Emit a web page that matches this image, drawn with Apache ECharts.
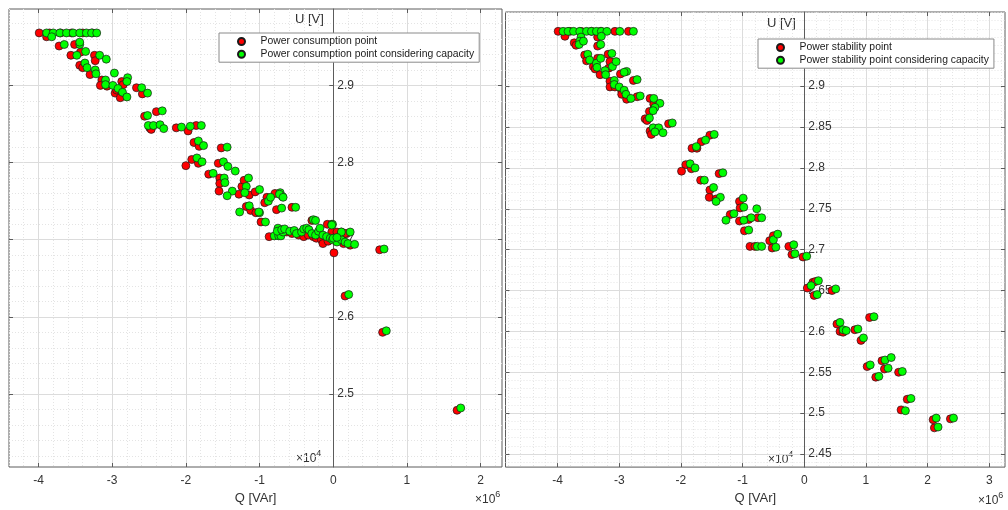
<!DOCTYPE html>
<html><head><meta charset="utf-8">
<script src="https://cdn.jsdelivr.net/npm/echarts@6/dist/echarts.min.js"></script>
<style>html,body{margin:0;padding:0;background:#fff}#c{width:1008px;height:510px}</style>
</head><body><div id="c"></div>
<script>
// Q in units of 1e6 VAr, U in units of 1e4 V (as shown on the axes)
const leftNames = ['Power consumption point', 'Power consumption point considering capacity'];
const rightNames = ['Power stability point', 'Power stability point considering capacity'];
const leftXTicks = [-4, -3, -2, -1, 0, 1, 2];
const leftYTicks = [2.5, 2.6, 2.7, 2.8, 2.9];
const rightXTicks = [-4, -3, -2, -1, 0, 1, 2, 3];
const rightYTicks = [2.45, 2.5, 2.55, 2.6, 2.65, 2.7, 2.75, 2.8, 2.85, 2.9];
const leftRange = {xmin: -4.40, xmax: 2.29, ymin: 2.4055, ymax: 2.999};
const rightRange = {xmin: -4.844, xmax: 3.255, ymin: 2.434, ymax: 2.9907};

const leftRed = [
[-3.99,2.968],[-3.85,2.968],[-3.70,2.968],[-3.55,2.968],[-3.40,2.968],[-3.27,2.968],
[-3.89,2.963],[-3.72,2.951],[-3.51,2.953],[-3.43,2.943],[-3.56,2.939],[-3.24,2.939],[-3.23,2.932],
[-3.44,2.926],[-3.40,2.923],[-3.30,2.914],[-3.14,2.907],[-3.16,2.900],[-3.07,2.899],[-2.96,2.890],
[-2.94,2.894],[-2.87,2.905],[-2.85,2.901],[-2.89,2.884],[-2.67,2.897],[-2.59,2.889],[-2.56,2.860],
[-2.40,2.866],[-2.49,2.845],[-2.47,2.843],[-2.13,2.845],[-1.97,2.841],[-1.86,2.848],[-1.89,2.826],
[-1.82,2.821],[-1.52,2.819],[-2.00,2.796],[-1.92,2.804],[-1.83,2.799],[-1.56,2.799],[-1.54,2.780],
[-1.54,2.773],[-1.69,2.785],[-1.24,2.769],[-1.21,2.777],[-1.55,2.763],[-1.28,2.759],[-1.14,2.758],
[-1.06,2.762],[-0.90,2.755],[-0.79,2.760],[-0.93,2.748],[-0.56,2.742],[-0.77,2.739],[-1.18,2.743],
[-1.12,2.738],[-1.05,2.735],[-0.98,2.723],[-0.87,2.704],[0.01,2.683],[-0.29,2.725],[-0.08,2.720],
[-0.63,2.710],[-0.56,2.708],[-0.47,2.706],[-0.40,2.704],[-0.34,2.706],[-0.27,2.704],[-0.23,2.702],
[-0.16,2.700],[-0.14,2.695],[-0.07,2.698],[-0.02,2.710],[0.05,2.706],[0.11,2.710],[0.18,2.708],
[-0.02,2.720],[0.05,2.710],[0.16,2.708],[0.14,2.695],[0.23,2.693],[0.63,2.687],[0.16,2.627],
[0.67,2.580],[1.68,2.479]
];
const leftGreen = [
[-3.89,2.968],[-3.80,2.968],[-3.71,2.968],[-3.62,2.968],[-3.53,2.968],[-3.44,2.968],[-3.35,2.968],
[-3.28,2.968],[-3.21,2.968],
[-3.82,2.963],[-3.65,2.953],[-3.44,2.953],[-3.44,2.956],[-3.36,2.944],[-3.48,2.939],[-3.17,2.939],
[-3.08,2.934],[-3.37,2.929],[-3.34,2.923],[-3.23,2.920],[-3.22,2.915],[-3.09,2.907],[-2.97,2.916],
[-2.79,2.910],[-2.80,2.905],[-3.09,2.901],[-2.99,2.900],[-2.92,2.896],[-2.86,2.891],[-2.80,2.885],
[-2.60,2.897],[-2.52,2.890],[-2.52,2.861],[-2.32,2.867],[-2.51,2.848],[-2.44,2.848],[-2.35,2.849],
[-2.30,2.844],[-2.06,2.846],[-1.94,2.847],[-1.79,2.848],[-1.83,2.828],[-1.76,2.822],[-1.44,2.820],
[-1.85,2.806],[-1.78,2.801],[-1.49,2.801],[-1.43,2.795],[-1.33,2.789],[-1.63,2.786],[-1.48,2.780],
[-1.47,2.774],[-1.15,2.780],[-1.18,2.769],[-1.37,2.763],[-1.44,2.757],[-1.20,2.761],[-1.00,2.765],
[-0.72,2.761],[-0.69,2.756],[-0.88,2.750],[-0.85,2.755],[-0.73,2.759],[-0.68,2.755],[-0.51,2.742],
[-0.70,2.741],[-1.14,2.744],[-1.27,2.736],[-1.00,2.735],[-0.92,2.723],[-0.80,2.705],[-0.74,2.705],
[-0.71,2.705],[-0.75,2.715],[-0.27,2.726],[-1.01,2.736],[-0.24,2.725],[-0.01,2.720],[-0.76,2.711],
[-0.68,2.710],[-0.70,2.713],[-0.66,2.714],[-0.59,2.711],[-0.53,2.712],[-0.50,2.708],[-0.43,2.710],
[-0.40,2.714],[-0.36,2.715],[-0.33,2.713],[-0.29,2.708],[-0.24,2.706],[-0.20,2.711],[-0.18,2.715],
[-0.14,2.706],[-0.09,2.704],[-0.04,2.702],[-0.01,2.700],[0.05,2.697],[0.11,2.700],[0.16,2.697],
[0.20,2.695],[-0.02,2.719],[0.11,2.710],[0.23,2.710],[0.00,2.702],[0.05,2.703],[0.29,2.694],
[0.69,2.688],[0.21,2.629],[0.72,2.582],[1.73,2.482]
];
const rightRed = [
[-3.99,2.967],[-3.80,2.967],[-3.62,2.967],[-3.45,2.967],[-3.30,2.967],[-3.07,2.967],[-2.85,2.967],
[-3.88,2.961],[-3.73,2.953],[-3.70,2.950],[-3.35,2.960],[-3.35,2.949],[-3.56,2.938],[-3.53,2.931],
[-3.42,2.924],[-3.39,2.921],[-3.31,2.914],[-3.35,2.934],[-3.18,2.939],[-3.17,2.922],[-3.15,2.906],
[-3.15,2.899],[-3.07,2.899],[-2.98,2.915],[-3.15,2.930],[-2.96,2.894],[-2.96,2.890],[-2.88,2.884],
[-2.77,2.907],[-2.71,2.887],[-2.50,2.885],[-2.44,2.878],[-2.51,2.869],[-2.58,2.860],[-2.55,2.858],
[-2.50,2.845],[-2.48,2.841],[-2.20,2.854],[-1.82,2.824],[-1.74,2.824],[-1.67,2.832],[-1.53,2.840],
[-1.92,2.804],[-1.83,2.799],[-1.99,2.796],[-1.38,2.793],
[-1.68,2.785],[-1.53,2.773],[-1.54,2.764],[-1.43,2.762],[-1.05,2.759],[-1.04,2.751],[-1.20,2.743],
[-1.05,2.735],[-0.90,2.737],[-0.75,2.739],[-0.97,2.723],[-0.88,2.704],[-0.80,2.704],[-0.56,2.711],
[-0.50,2.717],[-0.52,2.702],[-0.25,2.704],[-0.20,2.694],[-0.02,2.691],
[0.05,2.653],[0.14,2.660],[0.18,2.661],[0.16,2.644],[0.45,2.650],[0.53,2.609],[0.58,2.600],
[0.63,2.599],[0.82,2.602],[0.92,2.589],[1.06,2.617],[1.02,2.557],[1.26,2.564],[1.30,2.554],
[1.16,2.544],[1.53,2.550],[1.67,2.517],[1.57,2.504],[2.09,2.492],[2.11,2.482],[2.37,2.493]
];
const rightGreen = [
[-3.91,2.967],[-3.83,2.967],[-3.74,2.967],[-3.64,2.967],[-3.53,2.967],[-3.45,2.967],[-3.37,2.967],
[-3.29,2.967],[-3.20,2.967],[-2.99,2.967],[-2.77,2.967],
[-3.62,2.960],[-3.64,2.955],[-3.65,2.951],[-3.58,2.955],[-3.30,2.951],[-3.29,2.961],[-3.51,2.939],
[-3.48,2.932],[-3.37,2.928],[-3.36,2.923],[-3.30,2.934],[-3.23,2.919],[-3.22,2.914],[-3.12,2.940],
[-3.11,2.924],[-3.05,2.930],[-2.88,2.918],[-2.92,2.917],[-3.08,2.907],[-3.08,2.902],[-3.00,2.899],
[-2.92,2.895],[-2.89,2.890],[-2.81,2.885],[-2.71,2.908],[-2.66,2.888],[-2.44,2.885],[-2.34,2.879],
[-2.42,2.874],[-2.45,2.870],[-2.51,2.861],[-2.45,2.849],[-2.36,2.849],[-2.29,2.843],[-2.42,2.844],
[-2.14,2.855],[-1.75,2.826],[-1.60,2.834],[-1.46,2.841],[-1.85,2.805],[-1.77,2.800],[-1.32,2.794],
[-1.62,2.785],[-1.47,2.776],[-1.36,2.764],[-1.43,2.759],[-0.99,2.763],[-0.98,2.752],[-1.14,2.744],
[-1.27,2.736],[-0.98,2.736],[-0.86,2.739],[-0.77,2.750],[-0.69,2.739],[-0.90,2.724],[-0.76,2.704],
[-0.69,2.704],[-0.50,2.712],[-0.43,2.719],[-0.46,2.703],[-0.17,2.706],[-0.15,2.695],[0.04,2.692],
[0.11,2.656],[0.23,2.662],[0.21,2.645],[0.51,2.652],[0.58,2.611],[0.63,2.602],[0.68,2.601],
[0.87,2.603],[0.96,2.592],[1.13,2.618],[1.07,2.559],[1.31,2.565],[1.41,2.568],[1.36,2.555],
[1.21,2.545],[1.59,2.551],[1.73,2.518],[1.64,2.503],[2.14,2.494],[2.17,2.483],[2.42,2.494]
];

const FONT = "'Liberation Sans', Arial, Helvetica, sans-serif";
const TXT = '#333333';
const AXC = '#5c5c5c';
const MAJ = '#dcdcdc';
const MIN = '#e4e4e4';

function minorTicks(major, lo, hi) {
  const step = (major[1] - major[0]) / 5;
  const out = [];
  const k0 = Math.ceil((lo - major[0]) / step - 1e-9);
  const k1 = Math.floor((hi - major[0]) / step + 1e-9);
  for (let k = k0; k <= k1; k++) out.push(+(major[0] + k * step).toFixed(6));
  return out;
}

const grids = [
  {left: 9, top: 9, width: 493, height: 458},
  {left: 505.5, top: 12, width: 499.5, height: 456.7}
];
const cfgs = [
  {r: leftRange, xt: leftXTicks, yt: leftYTicks},
  {r: rightRange, xt: rightXTicks, yt: rightYTicks}
];

const xAxis = [], yAxis = [];
cfgs.forEach((c, g) => {
  const r = c.r;
  const base = {type: 'value', gridIndex: g, min: r.xmin, max: r.xmax};
  // minor grid
  xAxis.push(Object.assign({}, base, {position: 'bottom', axisLine: {show: false, onZero: false},
    axisTick: {show: false, customValues: minorTicks(c.xt, r.xmin, r.xmax)},
    axisLabel: {show: false}, splitLine: {show: true, lineStyle: {color: MIN, type: [1, 2], width: 1}}}));
  // main bottom
  xAxis.push(Object.assign({}, base, {position: 'bottom', name: 'Q [VAr]', nameLocation: 'middle', nameGap: 23,
    nameTextStyle: {fontFamily: FONT, fontSize: 13, color: TXT},
    axisLine: {show: false, onZero: false},
    axisTick: {show: true, inside: true, length: 4, customValues: c.xt, lineStyle: {color: AXC}},
    axisLabel: {show: true, customValues: c.xt, margin: 8, fontFamily: FONT, fontSize: 12, color: TXT},
    splitLine: {show: true, lineStyle: {color: MAJ, width: 1}}}));
  // top ticks
  xAxis.push(Object.assign({}, base, {position: 'top', axisLine: {show: false, onZero: false},
    axisTick: {show: true, inside: true, length: 4, customValues: c.xt, lineStyle: {color: AXC}},
    axisLabel: {show: false}, splitLine: {show: false}}));

  const ybase = {type: 'value', gridIndex: g, min: r.ymin, max: r.ymax};
  yAxis.push(Object.assign({}, ybase, {position: 'left', axisLine: {show: false, onZero: false},
    axisTick: {show: false, customValues: minorTicks(c.yt, r.ymin, r.ymax)},
    axisLabel: {show: false}, splitLine: {show: true, lineStyle: {color: MIN, type: [1, 2], width: 1}}}));
  yAxis.push(Object.assign({}, ybase, {position: 'left', axisLine: {show: false, onZero: false},
    axisTick: {show: true, inside: true, length: 4, customValues: c.yt, lineStyle: {color: AXC}},
    axisLabel: {show: false}, splitLine: {show: true, lineStyle: {color: MAJ, width: 1}}}));
  yAxis.push(Object.assign({}, ybase, {position: 'right', axisLine: {show: false, onZero: false},
    axisTick: {show: true, inside: true, length: 4, customValues: c.yt, lineStyle: {color: AXC}},
    axisLabel: {show: false}, splitLine: {show: false}}));
  // y axis through Q = 0 (pixel offset of zero inside the grid)
  const zeroOffset = -grids[g].width * (0 - r.xmin) / (r.xmax - r.xmin);
  yAxis.push(Object.assign({}, ybase, {position: 'left', offset: zeroOffset,
    axisLine: {show: true, onZero: false, lineStyle: {color: AXC, width: 1}},
    axisTick: {show: true, inside: false, length: 4, customValues: c.yt, lineStyle: {color: AXC}},
    axisLabel: {show: true, inside: true, margin: 4, customValues: c.yt, fontFamily: FONT, fontSize: 12, color: TXT,
      formatter: v => String(+v.toFixed(3))},
    splitLine: {show: false}}));
});

const mk = (name, data, color, g, z) => ({
  name, type: 'scatter', data, xAxisIndex: g * 3 + 1, yAxisIndex: g * 4 + 3,
  symbol: 'circle', symbolSize: 8, z,
  itemStyle: {color, borderColor: '#1a1a1a', borderWidth: 0.7, opacity: 1},
  emphasis: {disabled: true}
});

const legendCommon = {
  orient: 'vertical', backgroundColor: '#ffffff', borderColor: '#8a8a8a', borderWidth: 1,
  padding: [3.5, 5, 3, 18], itemGap: 2.7, itemWidth: 28, itemHeight: 7, icon: 'circle',
  textStyle: {fontFamily: FONT, fontSize: 10.4, color: '#1a1a1a'}, selectedMode: false
};

const sup = (t, base) => ({
  type: 'text', left: base[0], top: base[1], silent: true,
  style: {text: '{a|×10}{b|' + t + '}', rich: {
    a: {fontFamily: FONT, fontSize: 12, fill: TXT, padding: [4, 0, 0, 0]},
    b: {fontFamily: FONT, fontSize: 9, fill: TXT, verticalAlign: 'top', padding: [0, 0, 6, 0]}}}
});

const option = {
  backgroundColor: '#ffffff',
  animation: false,
  grid: grids.map(g => Object.assign({show: true, borderColor: AXC, borderWidth: 1, backgroundColor: 'transparent', containLabel: false}, g)),
  xAxis, yAxis,
  legend: [
    Object.assign({}, legendCommon, {left: 219, top: 33, data: leftNames}),
    Object.assign({}, legendCommon, {left: 758, top: 39, data: rightNames})
  ],
  series: [
    mk(leftNames[0], leftRed, '#ff0000', 0, 3),
    mk(leftNames[1], leftGreen, '#00ff00', 0, 4),
    mk(rightNames[0], rightRed, '#ff0000', 1, 3),
    mk(rightNames[1], rightGreen, '#00ff00', 1, 4)
  ],
  graphic: [
    {type: 'text', left: 295, top: 13, silent: true, style: {text: 'U [V]', fontFamily: FONT, fontSize: 13, fill: TXT}},
    {type: 'text', left: 767, top: 17, silent: true, style: {text: 'U [V]', fontFamily: FONT, fontSize: 13, fill: TXT}},
    sup('4', [296, 449]),
    sup('4', [768, 450]),
    sup('6', [475, 490]),
    sup('6', [978, 491])
  ]
};
const chart = echarts.init(document.getElementById('c'), null, {renderer: 'canvas'});
chart.setOption(option);
</script></body></html>
